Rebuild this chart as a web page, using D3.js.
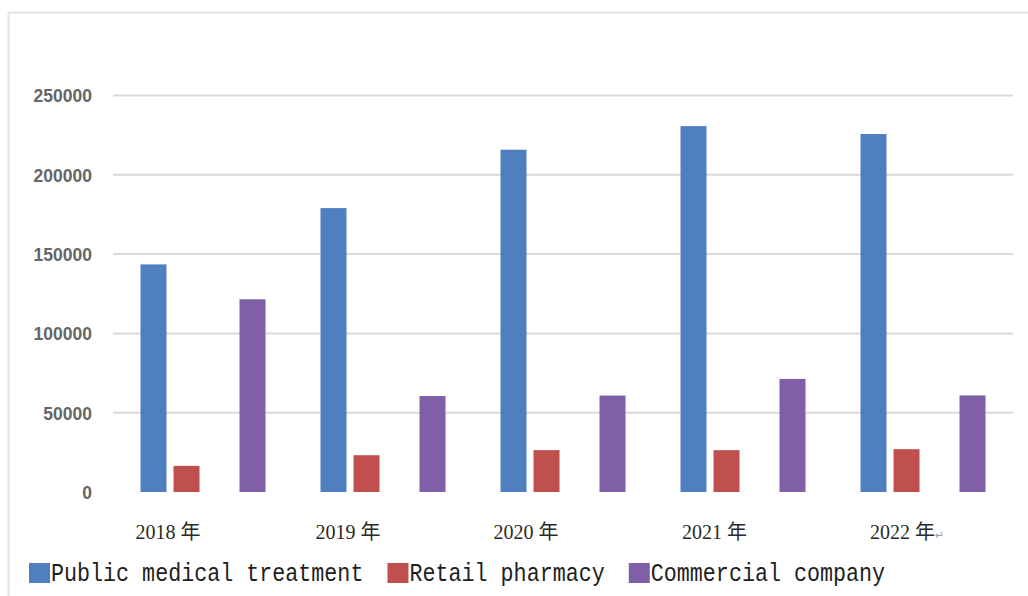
<!DOCTYPE html>
<html>
<head>
<meta charset="utf-8">
<script src="https://cdn.jsdelivr.net/npm/d3@7"></script>
<style>
  html, body { margin: 0; padding: 0; background: #ffffff; }
  svg { display: block; }
</style>
</head>
<body>
<svg id="chart" width="1028" height="596"></svg>
<script>
// Category labels (years) and the suffix drawn after each one
const categories = ["2018", "2019", "2020", "2021", "2022"];
const yearSuffix = "年";

// Series values per year
const publicMedical     = [143500, 179000, 215800, 230700, 225700];
const retailPharmacy    = [16500, 23200, 26400, 26400, 27000];
const commercialCompany = [121500, 60500, 60800, 71300, 60900];

// Value axis ticks
const yTicks = [0, 50000, 100000, 150000, 200000, 250000];

// Legend labels and colours
const seriesNames  = ["Public medical treatment", "Retail pharmacy", "Commercial company"];
const seriesColors = ["#4f7fbe", "#c0504d", "#7f5fa6"];

// Bar slots inside each year group; the third slot is an empty series
const slots = [
  { key: "public",     values: publicMedical,     color: seriesColors[0] },
  { key: "retail",     values: retailPharmacy,    color: seriesColors[1] },
  { key: "blank",      values: null,              color: null },
  { key: "commercial", values: commercialCompany, color: seriesColors[2] }
];

const svg = d3.select("#chart");

// Outer chart frame
svg.append("rect")
  .attr("x", 8.5).attr("y", 12.5)
  .attr("width", 1030).attr("height", 600)
  .attr("fill", "#ffffff")
  .attr("stroke", "#e4e4e4")
  .attr("stroke-width", 2);

const plot = { left: 113, right: 1013, top: 95.5, bottom: 492 };

const x0 = d3.scaleBand()
  .domain(categories)
  .range([plot.left, plot.right])
  .paddingInner(0.3056)
  .paddingOuter(0.1528);

const x1 = d3.scaleBand()
  .domain(slots.map(s => s.key))
  .range([0, x0.bandwidth()])
  .paddingInner(0.212)
  .paddingOuter(0);

const y = d3.scaleLinear()
  .domain([0, 250000])
  .range([plot.bottom, plot.top]);

// Horizontal gridlines
svg.append("g")
  .selectAll("line")
  .data(yTicks.filter(t => t > 0))
  .join("line")
  .attr("x1", plot.left).attr("x2", plot.right)
  .attr("y1", d => y(d)).attr("y2", d => y(d))
  .attr("stroke", "#d9d9d9")
  .attr("stroke-width", 2);

// Value axis labels
const yAxis = d3.axisLeft(y).tickValues(yTicks).tickSize(0).tickPadding(0)
  .tickFormat(d3.format("d"));
const yg = svg.append("g")
  .attr("transform", `translate(${plot.left - 21},0)`)
  .call(yAxis);
yg.select(".domain").remove();
yg.selectAll("text")
  .attr("font-family", "'Liberation Sans', Arial, sans-serif")
  .attr("font-size", 17.5)
  .attr("font-weight", 600)
  .attr("fill", "#666666")
  .attr("dy", "0.36em");

// Bars
const groups = svg.append("g")
  .selectAll("g")
  .data(categories)
  .join("g")
  .attr("transform", d => `translate(${x0(d)},0)`);

groups.selectAll("rect")
  .data((d, i) => slots.filter(s => s.values).map(s => ({ key: s.key, color: s.color, value: s.values[i] })))
  .join("rect")
  .attr("x", d => x1(d.key))
  .attr("width", x1.bandwidth())
  .attr("y", d => y(d.value))
  .attr("height", d => y(0) - y(d.value))
  .attr("fill", d => d.color);

// Category labels
const xLabels = svg.append("g")
  .selectAll("text")
  .data(categories)
  .join("text")
  .attr("x", (d, i) => x0(d) + [-5, -5, -7, 1.5, 9.5][i])
  .attr("y", 539)
  .attr("fill", "#2a2a2a");

xLabels.append("tspan")
  .attr("font-family", "'Liberation Serif', 'Times New Roman', serif")
  .attr("font-size", 20)
  .text(d => d + " ");
xLabels.append("tspan")
  .attr("font-family", "'Noto Sans CJK SC', sans-serif")
  .attr("font-size", 20)
  .text(yearSuffix);
xLabels.filter((d, i) => i === categories.length - 1)
  .append("tspan")
  .attr("font-family", "'DejaVu Sans', sans-serif")
  .attr("font-size", 11)
  .attr("fill", "#9a9a9a")
  .text("↵");

// Legend
const legendFont = 21.7;
const charW = legendFont * 0.6;
let lx = 29;
const legend = svg.append("g");
seriesNames.forEach((name, i) => {
  legend.append("rect")
    .attr("x", lx).attr("y", 563)
    .attr("width", 21).attr("height", 20)
    .attr("fill", seriesColors[i]);
  legend.append("text")
    .attr("transform", `translate(${lx + 22},581) scale(1,1.15)`)
    .attr("font-family", "'Liberation Mono', 'DejaVu Sans Mono', monospace")
    .attr("font-size", legendFont)
    .attr("fill", "#1e1e1e")
    .text(name);
  lx += 22 + name.length * charW + 24;
});
</script>
</body>
</html>
